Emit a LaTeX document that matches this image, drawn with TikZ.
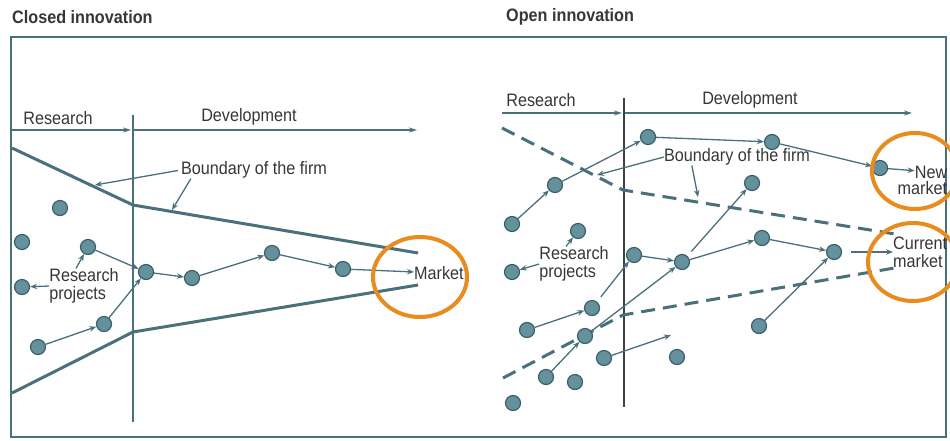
\documentclass[tikz,border=0pt]{standalone}
\usepackage{fontspec}
\setmainfont{Liberation Sans}[FakeStretch=0.9]
\usetikzlibrary{arrows.meta}
\usetikzlibrary{positioning}
\usetikzlibrary{calc}

\definecolor{lineteal}{RGB}{74,112,124}
\definecolor{dotfill}{RGB}{100,145,155}
\definecolor{dotedge}{RGB}{58,96,108}
\definecolor{hlorange}{RGB}{232,140,30}
\definecolor{txtgray}{RGB}{55,55,55}

\tikzset{
    dot/.style={circle,fill=dotfill,draw=dotedge,line width=1.2pt,minimum size=15pt,inner sep=0},
    flow/.style={-{Stealth[length=7pt,width=5.5pt]},draw=lineteal,line width=1.3pt},
    axis/.style={-{Stealth[length=8pt,width=5pt]},draw=lineteal,line width=1.3pt},
    firm/.style={draw=lineteal,line width=3pt,line join=round},
    openfirm/.style={draw=lineteal,line width=3pt,dash pattern=on 14pt off 8pt},
    lbl/.style={text=txtgray,font=\fontsize{18}{18}\selectfont,inner sep=0},
    ttl/.style={text=txtgray,font=\fontsize{18}{20}\selectfont\bfseries,inner sep=0},
    hl/.style={draw=hlorange,line width=4pt},
}

\begin{document}
\begin{tikzpicture}[x=1pt,y=-1pt]
    \useasboundingbox (0,0) rectangle (950,440);
    \clip (0,0) rectangle (950,440);
    \fill[white] (0,0) rectangle (950,440);
    \draw[draw=lineteal,line width=1.5pt] (11,37) rectangle (946,437);

    \node[ttl,anchor=west] (ttlc) at (12,17) {Closed innovation};
    \node[ttl,anchor=west] (ttlo) at (506,17) {Open innovation};

    % closed innovation
    \node[lbl] (resc) at (58,118) {Research};
    \node[lbl] (devc) at (249,117) {Development};
    \coordinate (rc0) at (12,130);
    \coordinate (rc1) at (131,130);
    \coordinate (dc0) at (133,130);
    \coordinate (dc1) at (417,130);
    \draw[axis] (rc0) -- (rc1);
    \draw[axis] (dc0) -- (dc1);
    \coordinate (vc0) at (133,115);
    \coordinate (vc1) at (133,422);
    \draw[draw=lineteal,line width=1.5pt] (vc0) -- (vc1);

    \draw[firm] (12,148) -- (133,205) -- (418,253);
    \draw[firm] (12,393) -- (133,332) -- (418,285);

    \node[lbl] (bfc) at (254,170) {Boundary of the firm};
    \coordinate (bc1) at (95,185);
    \coordinate (bc2) at (172,210);
    \draw[flow,shorten <=3pt] (bfc.west) -- (bc1);
    \draw[flow] ([xshift=10pt]bfc.south west) -- (bc2);

    \node[dot] (a1) at (60,208) {};
    \node[dot] (a2) at (22,242) {};
    \node[dot] (a3) at (88,247) {};
    \node[dot] (a4) at (22,287) {};
    \node[dot] (a5) at (146,272) {};
    \node[dot] (a6) at (192,278) {};
    \node[dot] (a7) at (272,253) {};
    \node[dot] (a8) at (343,269) {};
    \node[dot] (a9) at (104,324) {};
    \node[dot] (a10) at (38,347) {};

    \node[lbl,align=left] (rpc) at (84,286) {Research\\projects};
    \node[lbl,anchor=west] (mkt) at (414,273) {Market};

    \draw[flow] (rpc.west) -- (a4);
    \draw[flow] ([xshift=-8pt]rpc.north) -- (a3);
    \draw[flow] (a3) -- (a5);
    \draw[flow] (a10) -- (a9);
    \draw[flow] (a9) -- (a5);
    \draw[flow] (a5) -- (a6);
    \draw[flow] (a6) -- (a7);
    \draw[flow] (a7) -- (a8);
    \draw[flow] (a8) -- (mkt);

    % open innovation
    \node[lbl] (reso) at (541,100) {Research};
    \node[lbl] (devo) at (750,100) {Development};
    \coordinate (ro0) at (502,113);
    \coordinate (ro1) at (622,113);
    \coordinate (do0) at (624,113);
    \coordinate (do1) at (912,113);
    \draw[axis] (ro0) -- (ro1);
    \draw[axis] (do0) -- (do1);
    \coordinate (vo0) at (624,98);
    \coordinate (vo1) at (624,407);
    \draw[draw=txtgray!80!lineteal,line width=2pt] (vo0) -- (vo1);

    \draw[openfirm] (502,128) -- (623,190) -- (895,234);
    \draw[openfirm] (503,378) -- (623,315) -- (900,267);

    \node[lbl] (bfo) at (737,157) {Boundary of the firm};
    \coordinate (bo1) at (597,175);
    \coordinate (bo2) at (698,197);
    \draw[flow] (bfo.west) -- (bo1);
    \draw[flow] ([xshift=28pt]bfo.south west) -- (bo2);

    \node[dot] (b1) at (648,137) {};
    \node[dot] (b2) at (772,142) {};
    \node[dot] (b3) at (880,168) {};
    \node[dot] (b4) at (555,185) {};
    \node[dot] (b5) at (752,183) {};
    \node[dot] (b6) at (512,224) {};
    \node[dot] (b7) at (578,231) {};
    \node[dot] (b8) at (512,272) {};
    \node[dot] (b9) at (634,255) {};
    \node[dot] (b10) at (682,262) {};
    \node[dot] (b11) at (762,238) {};
    \node[dot] (b12) at (834,252) {};
    \node[dot] (b13) at (592,308) {};
    \node[dot] (b14) at (527,330) {};
    \node[dot] (b15) at (585,336) {};
    \node[dot] (b16) at (604,358) {};
    \node[dot] (b17) at (677,357) {};
    \node[dot] (b18) at (759,326) {};
    \node[dot] (b19) at (546,377) {};
    \node[dot] (b20) at (575,382) {};
    \node[dot] (b21) at (513,403) {};
    \coordinate (bx) at (671,335);

    \node[lbl,align=left] (rpo) at (574,264) {Research\\projects};
    \node[lbl] (newm) at (931,172) {New};
    \node[lbl,anchor=north east] (newmk) at ([yshift=-3pt]newm.south east) {market};
    \node[lbl,align=left,anchor=west] (curm) at (893,252) {Current\\market};

    \draw[flow] (rpo.west) -- (b8);
    \draw[flow] ([xshift=-8pt]rpo.north) -- (b7);
    \draw[flow] (b6) -- (b4);
    \draw[flow] (b4) -- (b1);
    \draw[flow] (b1) -- (b2);
    \draw[flow] (b2) -- (b3);
    \draw[flow] (b3) -- (newm);
    \draw[flow,shorten <=6pt] (b10) -- (b5);
    \draw[flow] (b9) -- (b10);
    \draw[flow] (b10) -- (b11);
    \draw[flow] (b11) -- (b12);
    \draw[flow,shorten <=9pt] (b12) -- (curm.west);
    \draw[flow] (b18) -- (b12);
    \draw[flow] (b14) -- (b13);
    \draw[flow,shorten <=6pt] (b13) -- (b9);
    \draw[flow] (b15) -- (b10);
    \draw[flow] (b19) -- (b15);
    \draw[flow] (b16) -- (bx);

    % highlights
    \draw[hl] (420,277) ellipse (47pt and 40pt);
    \draw[hl] (915,171) ellipse (43pt and 38pt);
    \draw[hl] (913,262) ellipse (45pt and 39pt);
\end{tikzpicture}
\end{document}
